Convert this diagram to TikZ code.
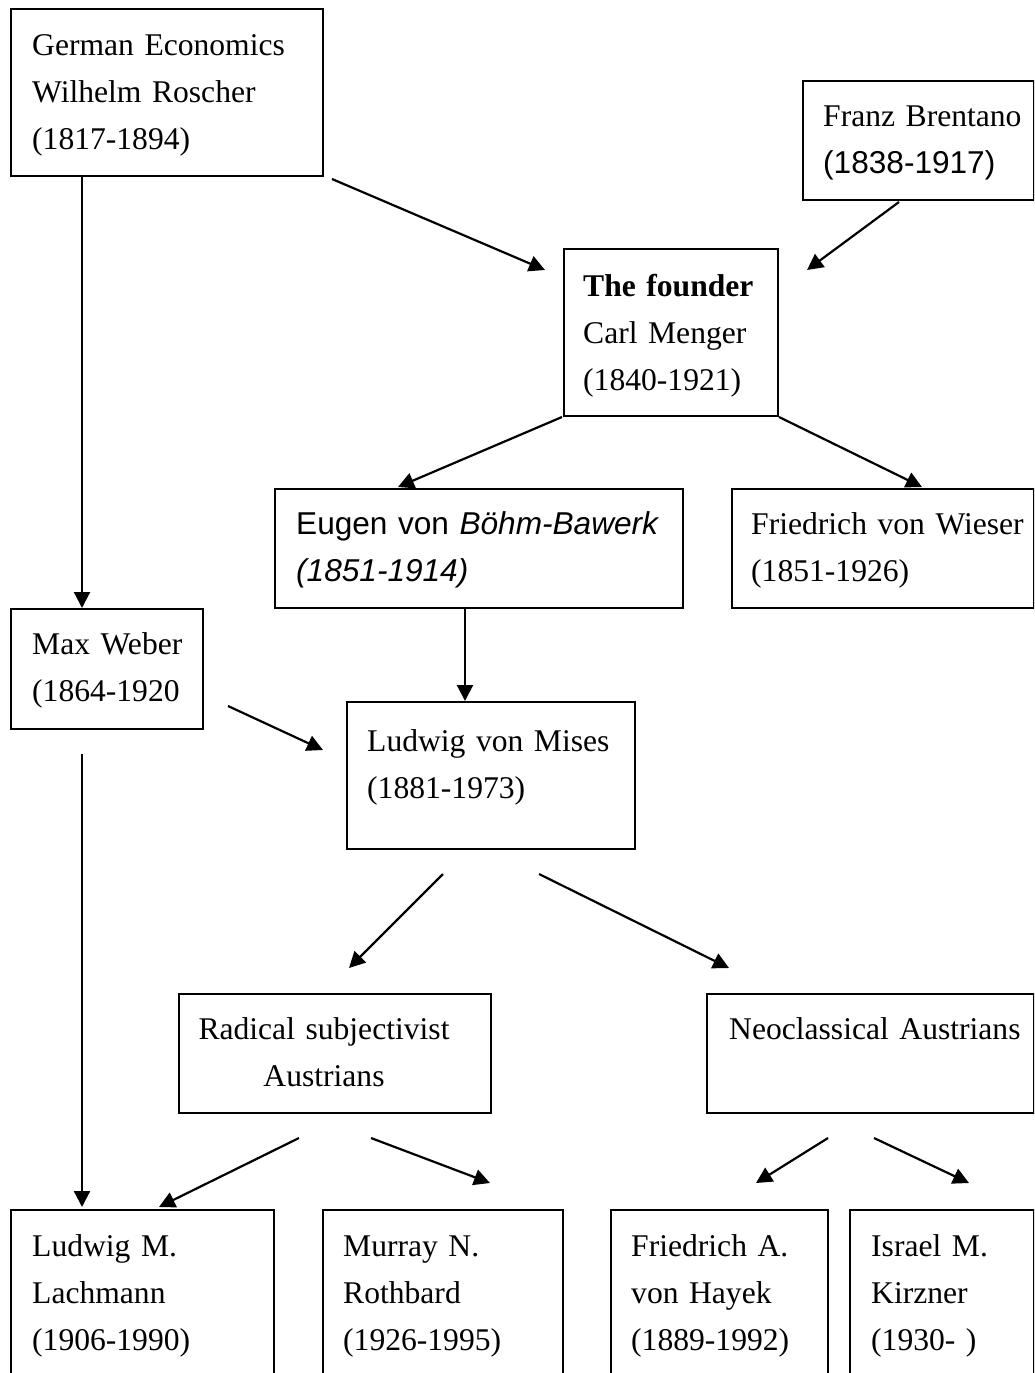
\documentclass[tikz,border=0pt]{standalone}
\usepackage{fontspec}
\setmainfont{Liberation Serif}
\setsansfont{Liberation Sans}
\usetikzlibrary{arrows.meta,positioning}
\definecolor{ink}{HTML}{000000}

\begin{document}
\begin{tikzpicture}[x=1pt,y=-1pt,
  box/.style={draw=ink,line width=2pt,inner sep=0pt,anchor=north west},
  txt/.style={inner sep=0pt,anchor=base west,align=left,text width=#1,text=ink,
    font=\fontsize{31.6}{47}\selectfont},
  txt/.default=300,
  arr/.style={draw=ink,line width=2.2pt,-{Triangle[length=16pt,width=16pt]}}]
\useasboundingbox (0,0) rectangle (1034,1373);
\clip (0,0) rectangle (1034,1373);
% boxes
\node[box,minimum width=312,minimum height=167] (roscher) at (10,8) {};
\node[box,minimum width=231,minimum height=119] (brentano) at (802,80) {};
\node[box,minimum width=214,minimum height=167] (menger) at (563,248) {};
\node[box,minimum width=408,minimum height=119] (bohm) at (274,488) {};
\node[box,minimum width=302,minimum height=119] (wieser) at (731,488) {};
\node[box,minimum width=192,minimum height=120] (weber) at (10,608) {};
\node[box,minimum width=288,minimum height=147] (mises) at (346,701) {};
\node[box,minimum width=312,minimum height=119] (radical) at (178,993) {};
\node[box,minimum width=327,minimum height=119] (neo) at (706,993) {};
\node[box,minimum width=263,minimum height=200] (lachmann) at (10,1209) {};
\node[box,minimum width=240,minimum height=200] (rothbard) at (322,1209) {};
\node[box,minimum width=217,minimum height=200] (hayek) at (610,1209) {};
\node[box,minimum width=184,minimum height=200] (kirzner) at (849,1209) {};
% texts
\node[txt] (roscher-t) at (32,55) {German Economics\\Wilhelm Roscher\\(1817-1894)};
\node[txt=200] (brentano-t) at (823,126) {Franz Brentano\\\sffamily(1838-1917)};
\node[txt=200] (menger-t) at (583,296) {\textbf{The founder}\\Carl Menger\\(1840-1921)};
\node[txt=380] (bohm-t) at (296,534) {\sffamily Eugen von \textit{Böhm-Bawerk}\\\textit{(1851-1914)}};
\node[txt=280] (wieser-t) at (751,534) {Friedrich von Wieser\\(1851-1926)};
\node[txt=170] (weber-t) at (32,654) {Max Weber\\(1864-1920};
\node[txt=260] (mises-t) at (367,751) {Ludwig von Mises\\(1881-1973)};
\node[txt,anchor=base,align=center] (radical-t) at (324,1039) {Radical subjectivist\\Austrians};
\node[txt=300] (neo-t) at (729,1039) {Neoclassical Austrians};
\node[txt=230] (lachmann-t) at (32,1256) {Ludwig M.\\Lachmann\\(1906-1990)};
\node[txt=210] (rothbard-t) at (343,1256) {Murray N.\\Rothbard\\(1926-1995)};
\node[txt=190] (hayek-t) at (631,1256) {Friedrich A.\\von Hayek\\(1889-1992)};
\node[txt=160] (kirzner-t) at (871,1256) {Israel M.\\Kirzner\\(1930- )};
% connectors
\draw[arr] ([shift={(8,2)}]roscher.south east) -- ([shift={(-18,22)}]menger.north west);
\draw[arr] ([shift={(-19.5,1)}]brentano.south) -- ([shift={(28,22)}]menger.north east);
\draw[arr] ([shift={(72,0)}]roscher.south west) -- ([shift={(72,0)}]weber.north west);
\draw[arr] ([shift={(-1,0)}]menger.south west) -- ([shift={(124,-1)}]bohm.north west);
\draw[arr] (menger.south east) -- ([shift={(191,-1)}]wieser.north west);
\draw[arr] ([shift={(191,0)}]bohm.south west) -- ([shift={(119,0)}]mises.north west);
\draw[arr] ([shift={(24,-24)}]weber.south east) -- ([shift={(-23,49)}]mises.north west);
\draw[arr] ([shift={(72,24)}]weber.south west) -- ([shift={(72,-2)}]lachmann.north west);
\draw[arr] ([shift={(-48,24)}]mises.south) -- ([shift={(14,-25)}]radical.north);
\draw[arr] ([shift={(48,24)}]mises.south) -- ([shift={(23,-25)}]neo.north west);
\draw[arr] ([shift={(-36,24)}]radical.south) -- ([shift={(-116,-2)}]lachmann.north east);
\draw[arr] ([shift={(36,24)}]radical.south) -- ([shift={(168,-26)}]rothbard.north west);
\draw[arr] ([shift={(-42.5,24)}]neo.south) -- ([shift={(36.5,-26)}]hayek.north);
\draw[arr] ([shift={(3.5,24)}]neo.south) -- ([shift={(120,-26)}]kirzner.north west);
\end{tikzpicture}
\end{document}
